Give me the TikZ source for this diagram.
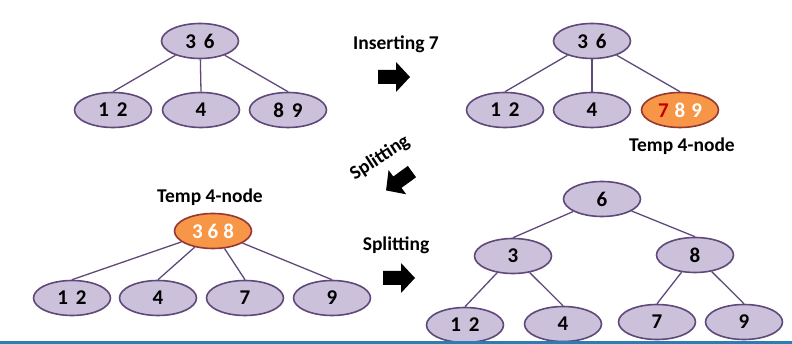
\documentclass[tikz,border=0pt]{standalone}
\usepackage{fontspec}
\setmainfont{Carlito}
\usetikzlibrary{shapes.geometric}
\definecolor{lav}{HTML}{CCC1DA}
\definecolor{purp}{HTML}{5F497A}
\definecolor{org}{HTML}{F79646}
\definecolor{orgb}{HTML}{953735}
\definecolor{redd}{HTML}{C00000}
\definecolor{blueline}{HTML}{2A7DB5}
\newcommand\blockarrow[3]{\fill[black, shift={(#1,#2)}, rotate=#3] (-16,-7) -- (2,-7) -- (2,-15) -- (16,0) -- (2,15) -- (2,7) -- (-16,7) -- cycle;}
\newcommand\gp{\hspace{8pt}}
\newcommand\sg{\hspace{6pt}}
\begin{document}
\begin{tikzpicture}[x=1pt,y=1pt,
 tn/.style={ellipse, draw=purp, fill=lav, line width=1.6pt, minimum width=77pt, minimum height=35pt, inner sep=0pt, font=\fontsize{21}{24}\selectfont\bfseries},
 tmp/.style={tn, draw=orgb, fill=org, text=white},
 lbl/.style={font=\fontsize{19.5}{22}\selectfont\bfseries, inner sep=0pt},
 edge/.style={draw=purp, line width=1.3pt}]
\useasboundingbox (0,0) rectangle (792,-344);
% top-left tree
\node[tn] (r1) at (200,-41) {3\gp6};
\node[tn] (a1) at (113,-110) {1\gp2};
\node[tn] (b1) at (201,-110) {4};
\node[tn] (c1) at (288,-110) {8\gp9};
\draw[edge] (r1) -- (a1.north);
\draw[edge] (r1) -- (b1.north);
\draw[edge] (r1) -- (c1.north);
% inserting
\node[lbl] (ins) at (396,-44) {Inserting 7};
\blockarrow{394}{-77}{0}
% top-right tree
\node[tn] (r2) at (592,-41) {3\gp6};
\node[tn] (a2) at (505,-110) {1\gp2};
\node[tn] (b2) at (592,-110) {4};
\node[tmp] (c2) at (680,-110) {\textcolor{redd}{7}\sg8\sg9};
\draw[edge] (r2) -- (a2.north);
\draw[edge] (r2) -- (b2.north);
\draw[edge] (r2) -- (c2.north);
\node[lbl] (t2) at (682,-146) {Temp 4-node};
% splitting diagonal
\node[lbl, rotate=33] (sp1) at (380,-158) {Splitting};
\blockarrow{399}{-181}{216}
% bottom-left tree
\node[lbl] (t3) at (210,-197) {Temp 4-node};
\node[tmp] (r3) at (213,-231) {3\hspace{5pt}6\hspace{5pt}8};
\node[tn] (a3) at (72,-298) {1\gp2};
\node[tn] (b3) at (158,-298) {4};
\node[tn] (c3) at (245,-298) {7};
\node[tn] (d3) at (332,-298) {9};
\draw[edge] (r3) -- (a3.north);
\draw[edge] (r3) -- (b3.north);
\draw[edge] (r3) -- (c3.north);
\draw[edge] (r3) -- (d3.north);
% splitting
\node[lbl] (sp2) at (396,-245) {Splitting};
\blockarrow{399}{-278}{0}
% bottom-right tree
\node[tn] (r4) at (602,-199) {6};
\node[tn] (a4) at (513,-256) {3};
\node[tn] (b4) at (695,-255) {8};
\node[tn] (a41) at (465,-325) {1\gp2};
\node[tn] (a42) at (563,-324) {4};
\node[tn] (b41) at (657,-322) {7};
\node[tn] (b42) at (744,-322) {9};
\draw[edge] (r4) -- (a4.north);
\draw[edge] (r4) -- (b4.north);
\draw[edge] (a4) -- (a41.north);
\draw[edge] (a4) -- (a42.north);
\draw[edge] (b4) -- (b41.north);
\draw[edge] (b4) -- (b42.north);
% bottom line
\fill[blueline] (0,-341) rectangle (792,-344);
\end{tikzpicture}
\end{document}
